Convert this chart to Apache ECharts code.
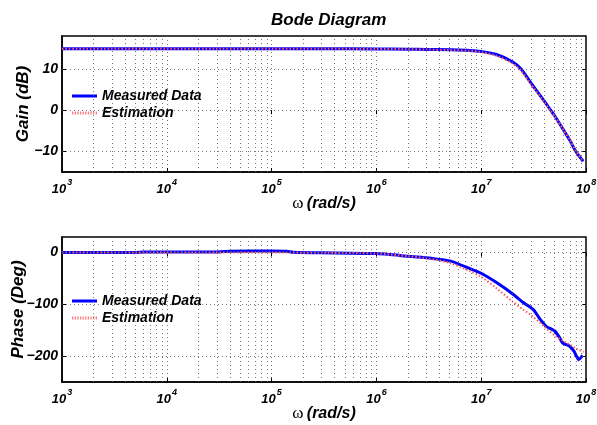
<!DOCTYPE html>
<html><head><meta charset="utf-8">
<script src="https://cdn.jsdelivr.net/npm/echarts@6/dist/echarts.min.js"></script>
<style>html,body{margin:0;padding:0;background:#fff}#c{width:597px;height:425px}</style>
</head><body><div id="c"></div>
<script>
// ---- data ----
const gainFreq      = [1e3, 3e3, 1e4, 3e4, 1e5, 3e5, 1e6, 2e6, 3e6, 5e6, 7.8e6, 1e7, 1.4e7, 2e7, 2.4e7, 3e7, 4e7, 4.6e7, 5e7, 6e7, 7e7, 8e7, 9.4e7];
const gainMeasured  = [14.9, 14.9, 14.9, 14.9, 14.9, 14.9, 14.85, 14.8, 14.75, 14.65, 14.5, 14.25, 13.5, 11.7, 10.0, 6.5, 2.2, 0.0, -1.3, -4.5, -7.3, -10.0, -12.4];
const gainEstimated = [14.9, 14.9, 14.9, 14.9, 14.9, 14.9, 14.85, 14.8, 14.72, 14.6, 14.4, 14.1, 13.2, 11.3, 9.6, 6.2, 2.0, -0.2, -1.4, -4.5, -7.2, -9.8, -12.5];

const phaseFreq     = [1e3, 5e3, 6e3, 3e4, 4e4, 1e5, 1.4e5, 1.6e5, 3e5, 1e6, 2e6, 3e6, 5.2e6, 7.8e6, 1e7, 1.4e7, 2e7, 2.5e7, 3e7, 3.2e7, 3.6e7, 4.2e7, 5e7, 5.5e7, 6e7, 6.9e7, 7.7e7, 8.5e7, 9.3e7];
const phaseMeasured = [0, 0, 0.8, 1, 2.5, 3, 2.5, 0.5, -0.5, -2, -7, -10, -17, -31, -40, -58, -80, -96, -107, -112, -127, -143, -151, -162, -175, -180, -191, -207, -199];
const phaseEstFreq  = [1e3, 1e4, 1e5, 3e5, 1e6, 2e6, 3e6, 5e6, 7.8e6, 1e7, 1.4e7, 2e7, 2.5e7, 3e7, 4e7, 5e7, 6e7, 7e7, 8e7, 9.5e7];
const phaseEstimated= [0, 0, 0, -0.5, -2, -7, -11, -20, -36, -47, -69, -95, -110, -121, -143, -160, -170, -178, -185, -192];

const gainGridValues  = [-10, 0, 10];
const phaseGridValues = [-200, -100, 0];
const decades = [3, 4, 5, 6, 7];   // exponents whose 2..9 minor grid lines are drawn

// ---- helpers ----
const FF = 'Liberation Sans';
const pairs = (xs, ys) => xs.map((x, i) => [x, ys[i]]);
const minorX = [];
decades.forEach(e => { for (let k = 2; k <= 9; k++) minorX.push(k * Math.pow(10, e)); });
const fmtNum = v => (v < 0 ? '\u2212' + (-v) : String(v));
const gridLine = { color: '#555', type: [1, 3], width: 0.8 };
const boldIt = { fontFamily: FF, fontWeight: 'bold', fontStyle: 'italic', color: '#000' };

function xAxis(gi) {
  return {
    type: 'log', logBase: 10, gridIndex: gi, min: 1e3, max: 1e8, splitNumber: 5,
    axisLine: { show: true, onZero: false, lineStyle: { color: '#000', width: 1.5 } },
    axisTick: { show: true, inside: true, length: 4, lineStyle: { color: '#000' } },
    splitLine: { show: true, lineStyle: gridLine },
    axisLabel: {
      margin: 6,
      formatter: v => '{b|10}{e|' + Math.round(Math.log10(v)) + '}',
      rich: {
        b: Object.assign({ fontSize: 13, lineHeight: 18, verticalAlign: 'bottom' }, boldIt),
        e: Object.assign({ fontSize: 9, lineHeight: 10, verticalAlign: 'top', padding: [0, 0, 0, 1] }, boldIt)
      }
    },
    name: '{w|\u03c9} {t|(rad/s)}', nameLocation: 'middle', nameGap: 22, nameMoveOverlap: false,
    nameTextStyle: {
      rich: {
        w: { fontFamily: 'Liberation Serif', fontSize: 17, color: '#000', lineHeight: 20 },
        t: Object.assign({ fontSize: 16, lineHeight: 20 }, boldIt)
      }
    }
  };
}

function xAxisTop(gi) {
  return {
    type: 'log', logBase: 10, gridIndex: gi, min: 1e3, max: 1e8, splitNumber: 5, position: 'top',
    axisLine: { show: false }, splitLine: { show: false }, axisLabel: { show: false },
    axisTick: { show: true, inside: true, length: 4, lineStyle: { color: '#000' } }
  };
}

function yAxis(gi, min, max, interval, ticks, name, nameGap) {
  return {
    type: 'value', gridIndex: gi, min: min, max: max, interval: interval,
    axisLine: { show: true, onZero: false, lineStyle: { color: '#000', width: 1.5 } },
    axisTick: { show: true, inside: true, length: 4, customValues: ticks, lineStyle: { color: '#000' } },
    splitLine: { show: false },
    axisLabel: Object.assign({
      margin: 4, fontSize: 14, customValues: ticks,
      formatter: v => fmtNum(v)
    }, boldIt),
    name: name, nameLocation: 'middle', nameGap: nameGap, nameMoveOverlap: false,
    nameTextStyle: Object.assign({ fontSize: 17 }, boldIt)
  };
}

function yAxisRight(gi, min, max, interval, ticks) {
  return {
    type: 'value', gridIndex: gi, min: min, max: max, interval: interval, position: 'right',
    axisLine: { show: false }, splitLine: { show: false }, axisLabel: { show: false },
    axisTick: { show: true, inside: true, length: 4, customValues: ticks, lineStyle: { color: '#000' } }
  };
}

function gridSeries(gi, hvals) {
  return {
    type: 'line', xAxisIndex: gi, yAxisIndex: gi, data: [], z: 1, silent: true,
    markLine: {
      silent: true, symbol: ['none', 'none'], animation: false,
      label: { show: false }, lineStyle: gridLine,
      emphasis: { disabled: true },
      data: minorX.map(x => ({ xAxis: x })).concat(hvals.map(y => ({ yAxis: y })))
    }
  };
}

const measuredStyle = { color: '#0000ff', width: 3 };
const estColor = '#ff5c5c';
const estStyle = { color: estColor, width: 2, type: [1.5, 2] };

let dotPath = 'path://';
for (let i = 0; i < 10; i++) dotPath += 'M' + (i * 2.6) + ',0h1.3v3h-1.3z';

function legend(gi, top) {
  return {
    left: 72, top: top, orient: 'vertical', padding: 0, itemGap: 3, itemWidth: 25, itemHeight: 14,
    textStyle: Object.assign({ fontSize: 14 }, boldIt),
    data: [
      { name: 'Measured Data', icon: 'path://M0,0H25V3H0Z' },
      { name: 'Estimation', icon: dotPath, itemStyle: { color: '#ff7a7a' } }
    ],
    selectedMode: false
  };
}

const chart = echarts.init(document.getElementById('c'), null, { renderer: 'canvas' });
chart.setOption({
  animation: false,
  backgroundColor: '#fff',
  title: {
    text: 'Bode Diagram', left: 266, top: 7,
    textStyle: Object.assign({ fontSize: 17 }, boldIt)
  },
  grid: [
    { left: 62, right: 11, top: 36, height: 136, show: true, borderColor: '#000', borderWidth: 1.5, backgroundColor: '#fff', containLabel: false, outerBoundsMode: 'none' },
    { left: 62, right: 11, top: 237, height: 145, show: true, borderColor: '#000', borderWidth: 1.5, backgroundColor: '#fff', containLabel: false, outerBoundsMode: 'none' }
  ],
  legend: [legend(0, 89), legend(1, 294)],
  xAxis: [xAxis(0), xAxis(1), xAxisTop(0), xAxisTop(1)],
  yAxis: [
    yAxis(0, -15, 18, 5, gainGridValues, 'Gain (dB)', 30),
    yAxis(1, -250, 30, 50, phaseGridValues, 'Phase (Deg)', 35),
    yAxisRight(0, -15, 18, 5, gainGridValues),
    yAxisRight(1, -250, 30, 50, phaseGridValues)
  ],
  series: [
    gridSeries(0, gainGridValues),
    gridSeries(1, phaseGridValues),
    { name: 'Measured Data', type: 'line', xAxisIndex: 0, yAxisIndex: 0, data: pairs(gainFreq, gainMeasured), showSymbol: false, symbol: 'none', smooth: 0.3, lineStyle: measuredStyle, itemStyle: { color: '#0000ff' }, z: 3 },
    { name: 'Estimation', type: 'line', xAxisIndex: 0, yAxisIndex: 0, data: pairs(gainFreq, gainEstimated), showSymbol: false, symbol: 'none', smooth: 0.3, lineStyle: estStyle, itemStyle: { color: estColor }, z: 4 },
    { name: 'Measured Data', type: 'line', xAxisIndex: 1, yAxisIndex: 1, data: pairs(phaseFreq, phaseMeasured), showSymbol: false, symbol: 'none', smooth: 0.15, lineStyle: measuredStyle, itemStyle: { color: '#0000ff' }, z: 3 },
    { name: 'Estimation', type: 'line', xAxisIndex: 1, yAxisIndex: 1, data: pairs(phaseEstFreq, phaseEstimated), showSymbol: false, symbol: 'none', smooth: 0.3, lineStyle: estStyle, itemStyle: { color: estColor }, z: 4 }
  ]
});
</script>
</body></html>
